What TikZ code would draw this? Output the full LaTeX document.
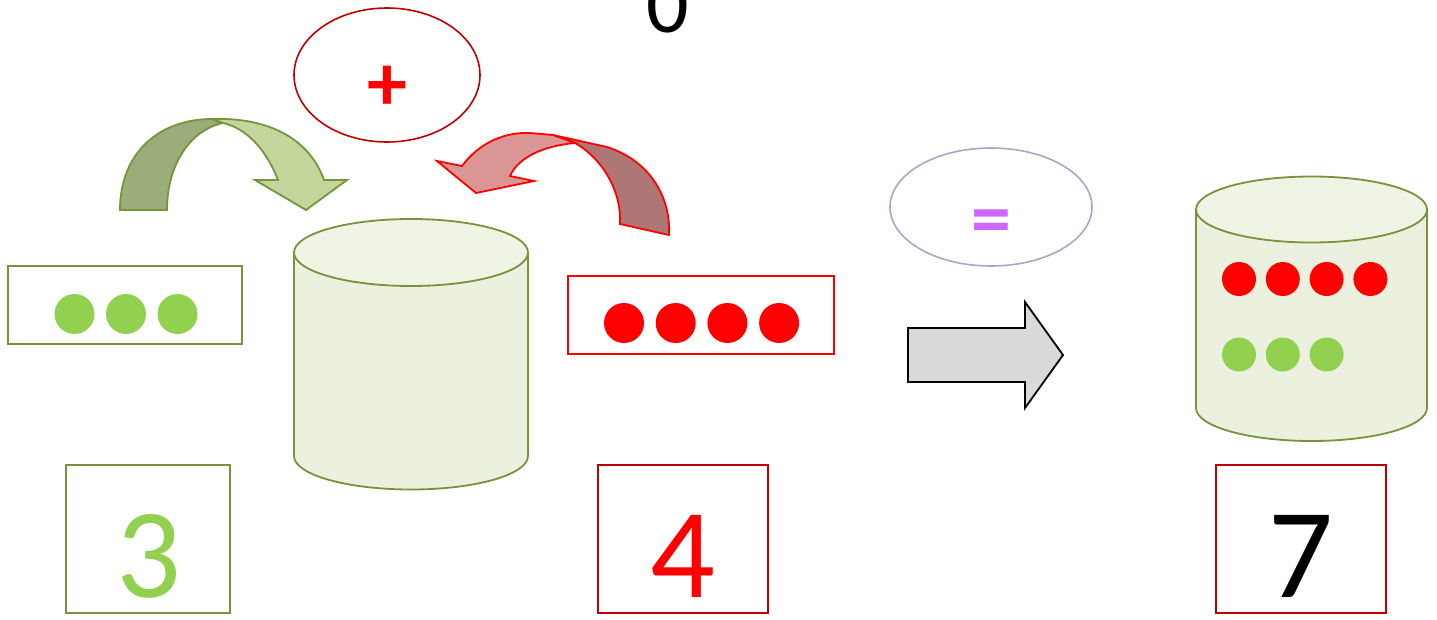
\documentclass[tikz,border=0pt]{standalone}
\usepackage{fontspec}
\setmainfont{Carlito}
\usepackage{tikz}
\usetikzlibrary{shapes.geometric}

\definecolor{oliveline}{HTML}{77933C}
\definecolor{dotgreen}{HTML}{92D050}
\definecolor{dotred}{HTML}{FF0000}
\definecolor{darkred}{HTML}{C00000}
\definecolor{cylfill}{HTML}{EBF1DE}
\definecolor{cyltop}{HTML}{EFF4E5}
\definecolor{gdark}{HTML}{9BAD78}
\definecolor{glight}{HTML}{C3D69B}
\definecolor{rlight}{HTML}{D99694}
\definecolor{rdark}{HTML}{AE7674}
\definecolor{arrowgray}{HTML}{D9D9D9}
\definecolor{lilac}{HTML}{B3A2C7}
\definecolor{eqpink}{HTML}{CC66FF}

% upright cylinder: centre x, top y, bottom y, x radius, y radius
\newcommand{\drum}[5]{%
  \fill[cylfill] (#1-#4,#2) rectangle (#1+#4,#3);
  \fill[cylfill] (#1,#3) ellipse [x radius=#4, y radius=#5];
  \draw[cyl] (#1-#4,#2) -- (#1-#4,#3)
    .. controls (#1-#4,#3+0.552*#5) and (#1-0.552*#4,#3+#5) .. (#1,#3+#5)
    .. controls (#1+0.552*#4,#3+#5) and (#1+#4,#3+0.552*#5) .. (#1+#4,#3)
    -- (#1+#4,#2);
  \filldraw[cyl, fill=cyltop] (#1,#2) ellipse [x radius=#4, y radius=#5];
}

\begin{document}
\begin{tikzpicture}[x=1pt, y=-1pt,
    dotbox/.style={rectangle, draw, line width=1.8pt, minimum height=78pt, inner sep=0pt},
    numbox/.style={rectangle, draw, line width=1.8pt, minimum height=148pt, inner sep=0pt},
    numtext/.style={inner sep=0pt, anchor=base, font=\fontsize{128}{128}\selectfont},
    gdot/.style={circle, fill=dotgreen, minimum size=40pt, inner sep=0pt},
    rdot/.style={circle, fill=dotred, minimum size=40pt, inner sep=0pt},
    oval/.style={ellipse, draw, line width=1.6pt, inner sep=0pt},
    sign/.style={inner sep=0pt, font=\bfseries\fontsize{80}{80}\selectfont},
    cyl/.style={draw=oliveline, line width=1.8pt},
    bentband/.style={line width=1.8pt, line join=miter}
]
    \useasboundingbox (0,0) rectangle (1437,619);

    % number at the top, cut by the page edge
    \node[inner sep=0pt, anchor=base, font=\fontsize{84}{84}\selectfont] (zero) at (668,32) {0};

    % plus sign
    \node[oval, draw=darkred, minimum width=186pt, minimum height=134pt] (plusoval) at (387,75) {};
    \node[sign, text=dotred] (plus) at (387,88) {+};

    % green curved arrow
    \filldraw[bentband, draw=oliveline, fill=gdark] (120,210) .. controls (120,152) and (160,119) .. (212,119)
        -- (223,123) .. controls (190,130) and (167,165) .. (167,210) -- cycle;
    \filldraw[bentband, draw=oliveline, fill=glight] (212,119) .. controls (270,117) and (310,140) .. (324,180)
        -- (347,180) -- (306,210) -- (255,180) -- (278,180)
        .. controls (265,147) and (245,128) .. (223,123) -- cycle;

    % red curved arrow
    \filldraw[bentband, draw=dotred, fill=rdark] (553,135) -- (607,147) .. controls (648,160) and (671,195) .. (669,235)
        -- (620,224) .. controls (622,195) and (605,160) .. (575,143) -- cycle;
    \filldraw[bentband, draw=dotred, fill=rlight] (462,166) .. controls (480,142) and (505,132) .. (530,133)
        -- (553,135) -- (575,143) .. controls (542,146) and (518,158) .. (510,176)
        -- (534,181) -- (476,193) -- (437,161) -- cycle;

    % first cylinder (empty)
    \drum{411}{252.5}{456}{117}{33.5}

    % three green dots
    \node[dotbox, draw=oliveline, minimum width=234pt] (greenbox) at (125,305) {};
    \foreach \i in {0,1,2}
        \node[gdot] (g\i) at (74.5+51.5*\i,314) {};

    % four red dots
    \node[dotbox, draw=dotred, minimum width=266pt] (redbox) at (701,315) {};
    \foreach \i in {0,1,2,3}
        \node[rdot] (r\i) at (624+51.7*\i,323) {};

    % numbers
    \node[numbox, draw=oliveline, minimum width=164pt] (box3) at (148,539) {};
    \node[numtext, text=dotgreen] (num3) at (148.5,597) {3};
    \node[numbox, draw=darkred, minimum width=170pt] (box4) at (683,539) {};
    \node[numtext, text=dotred] (num4) at (682.5,597) {4};
    \node[numbox, draw=darkred, minimum width=170pt] (box7) at (1301,539) {};
    \node[numtext, text=black] (num7) at (1301,597) {7};

    % equals sign
    \node[oval, draw=lilac, minimum width=202pt, minimum height=118pt] (eqoval) at (991,207) {};
    \node[sign, text=eqpink] (equals) at (991,228) {=};

    % block arrow
    \filldraw[fill=arrowgray, draw=black, line width=1.8pt, line join=miter]
        (908,328) -- (1025,328) -- (1025,302) -- (1063,355) -- (1025,408) -- (1025,382) -- (908,382) -- cycle;

    % second cylinder with all dots
    \drum{1311.5}{209.5}{408}{115.5}{33}
    \foreach \i in {0,1,2,3}
        \node[rdot, minimum size=34pt] (cr\i) at (1239+43.8*\i,279) {};
    \foreach \i in {0,1,2}
        \node[gdot, minimum size=34pt] (cg\i) at (1239+43.8*\i,354.5) {};
\end{tikzpicture}
\end{document}
